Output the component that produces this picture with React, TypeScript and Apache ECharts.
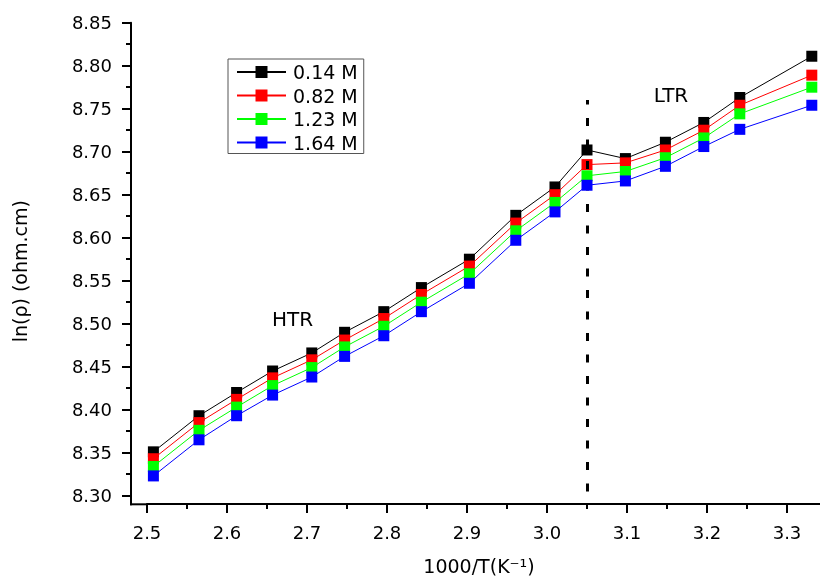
import React, { useEffect, useRef } from "react";
import * as echarts from "echarts";

// 1000/T (K^-1)
const xValues = [2.508, 2.565, 2.612, 2.657, 2.706, 2.747, 2.796, 2.843, 2.903, 2.961, 3.010, 3.050, 3.098, 3.148, 3.196, 3.241, 3.331];
// ln(rho) for each concentration
const rho014 = [8.351, 8.393, 8.420, 8.445, 8.466, 8.490, 8.514, 8.542, 8.575, 8.626, 8.659, 8.702, 8.692, 8.711, 8.734, 8.763, 8.811];
const rho082 = [8.343, 8.385, 8.412, 8.437, 8.458, 8.481, 8.506, 8.534, 8.567, 8.617, 8.650, 8.685, 8.687, 8.702, 8.725, 8.754, 8.789];
const rho123 = [8.334, 8.376, 8.403, 8.428, 8.449, 8.473, 8.497, 8.525, 8.558, 8.608, 8.641, 8.672, 8.677, 8.693, 8.716, 8.744, 8.775];
const rho164 = [8.323, 8.365, 8.393, 8.417, 8.438, 8.462, 8.486, 8.514, 8.547, 8.597, 8.630, 8.661, 8.666, 8.683, 8.706, 8.726, 8.754];

const seriesNames = ["0.14 M", "0.82 M", "1.23 M", "1.64 M"];
const seriesValues = [rho014, rho082, rho123, rho164];
const seriesColors = ["#000000", "#ff0000", "#00ff00", "#0000ff"];

const boundaryX = 3.05;
const boundaryY = [8.305, 8.76];
const regionLabels = [
  { text: "HTR", x: 2.682, y: 8.506 },
  { text: "LTR", x: 3.155, y: 8.766 },
];

const FONT = "DejaVu Sans";

export default function App() {
  const ref = useRef<HTMLDivElement>(null);
  useEffect(() => {
    if (!ref.current) return;
    const chart = echarts.init(ref.current, undefined, { renderer: "svg" });
    const series: any[] = seriesNames.map((name, i) => ({
      name,
      type: "line",
      data: xValues.map((x, j) => [x, seriesValues[i][j]]),
      symbol: "rect",
      symbolSize: 11,
      showAllSymbol: true,
      itemStyle: { color: seriesColors[i] },
      lineStyle: { color: seriesColors[i], width: 1 },
      z: 2 + i,
    }));
    series[0].markPoint = {
      symbol: "circle",
      symbolSize: 1,
      itemStyle: { color: "rgba(0,0,0,0)" },
      label: { show: true, position: "inside", color: "#000", fontSize: 20, fontFamily: FONT, formatter: (p: any) => p.name },
      data: regionLabels.map((r) => ({ name: r.text, coord: [r.x, r.y] })),
    };
    series[3].markLine = {
      silent: true,
      symbol: ["none", "none"],
      label: { show: false },
      lineStyle: { color: "#000", width: 3, type: [8, 13.5] },
      data: [[{ coord: [boundaryX, boundaryY[0]] }, { coord: [boundaryX, boundaryY[1]] }]],
    };

    chart.setOption({
      animation: false,
      textStyle: { fontFamily: FONT },
      grid: { left: 147, width: 720, top: 22.7, height: 473, containLabel: false, outerBoundsMode: "none" },
      legend: {
        orient: "vertical",
        left: 228,
        top: 59,
        align: "left",
        padding: [3, 6, 1, 8],
        itemWidth: 49,
        itemHeight: 15,
        itemGap: 3.5,
        borderColor: "#555",
        borderWidth: 1,
        textStyle: { fontSize: 19, lineHeight: 20, color: "#000", fontFamily: FONT, padding: [0, 0, 0, 2] },
        data: seriesNames,
      },
      xAxis: {
        type: "value",
        min: 2.5,
        max: 3.4,
        interval: 0.1,
        offset: 8.3,
        name: "1000/T(K⁻¹)",
        nameLocation: "middle",
        nameGap: 52,
        nameTextStyle: { fontSize: 19, color: "#000", fontFamily: FONT, padding: [0, 56, 0, 0] },
        axisLine: { show: true, onZero: false, lineStyle: { color: "#000", width: 2 } },
        axisTick: { show: true, inside: false, length: 9, lineStyle: { color: "#000", width: 2 } },
        minorTick: { show: true, splitNumber: 2, length: 5, lineStyle: { color: "#000", width: 2 } },
        splitLine: { show: false },
        axisLabel: { color: "#000", fontSize: 18, margin: 19, fontFamily: FONT, showMaxLabel: false, formatter: (v: number) => v.toFixed(1) },
      },
      yAxis: {
        type: "value",
        min: 8.3,
        max: 8.85,
        interval: 0.05,
        offset: 16,
        name: "ln(ρ) (ohm.cm)",
        nameLocation: "middle",
        nameGap: 102,
        nameRotate: 90,
        nameTextStyle: { fontSize: 19, color: "#000", fontFamily: FONT, padding: [0, 24, 0, 0] },
        axisLine: { show: true, onZero: false, lineStyle: { color: "#000", width: 2 } },
        axisTick: { show: true, inside: false, length: 9, lineStyle: { color: "#000", width: 2 } },
        minorTick: { show: true, splitNumber: 2, length: 5, lineStyle: { color: "#000", width: 2 } },
        splitLine: { show: false },
        axisLabel: { color: "#000", fontSize: 18, margin: 19, fontFamily: FONT, formatter: (v: number) => v.toFixed(2) },
      },
      graphic: [
        { type: "line", shape: { x1: 130, y1: 504.3, x2: 148, y2: 504.3 }, style: { stroke: "#000", lineWidth: 2 } },
        { type: "line", shape: { x1: 131, y1: 494, x2: 131, y2: 505.3 }, style: { stroke: "#000", lineWidth: 2 } },
      ],
      series,
    });
    return () => chart.dispose();
  }, []);
  return <div ref={ref} style={{ position: "fixed", left: 0, top: 0, width: 820, height: 577 }} />;
}
